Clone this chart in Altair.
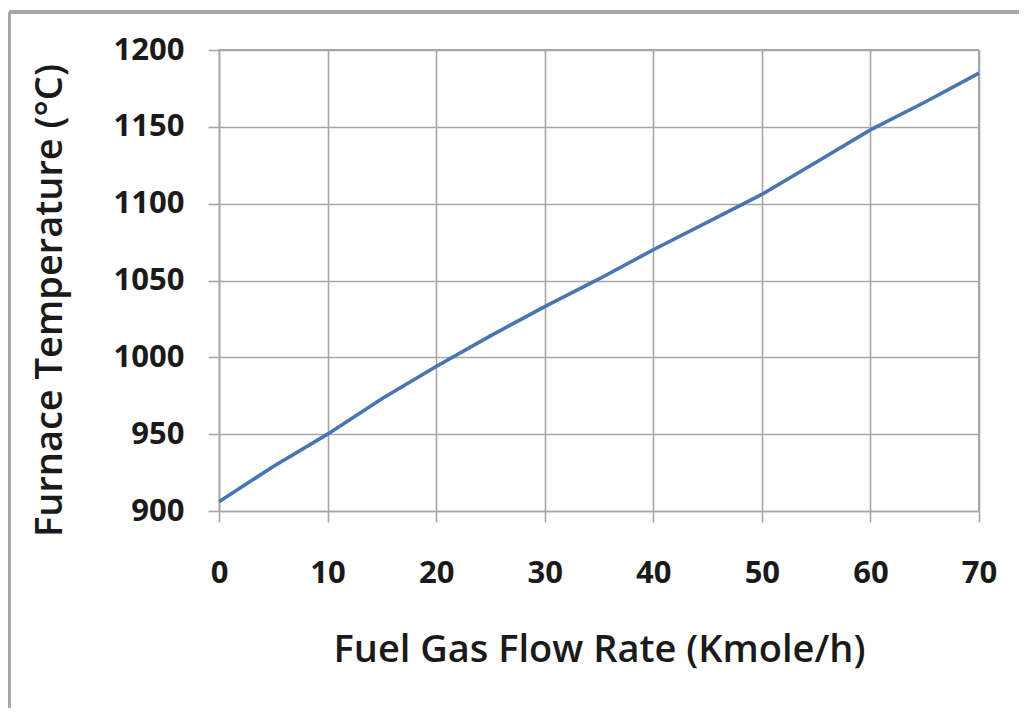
import altair as alt
import pandas as pd

flow = [0, 5, 10, 15, 20, 25, 30, 35, 40, 45, 50, 55, 60, 65, 70]
temp = [906, 929, 950, 973, 994, 1014, 1033, 1051, 1070, 1088, 1106, 1127, 1148, 1166, 1185]
x_ticks = [0, 10, 20, 30, 40, 50, 60, 70]
y_ticks = [900, 950, 1000, 1050, 1100, 1150, 1200]

df = pd.DataFrame({"flow": flow, "temp": temp})

FONT = "Open Sans"

line = alt.Chart(df).mark_line(color="#4a76b0", strokeWidth=3.6).encode(
    x=alt.X("flow:Q",
            scale=alt.Scale(domain=[0, 70], nice=False, zero=False),
            axis=alt.Axis(values=x_ticks, title="Fuel Gas Flow Rate (Kmole/h)",
                          format="d", labelFlush=False,
                          grid=True, gridColor="#a6a6a6", gridWidth=1.6,
                          domainColor="#a6a6a6", domainWidth=1.6,
                          tickColor="#a6a6a6", tickWidth=1.6, tickSize=11,
                          labelFont=FONT, labelFontSize=31, labelFontWeight="bold",
                          labelColor="#1a1a1a", labelPadding=36,
                          titleFont=FONT, titleFontSize=38, titleFontWeight=600,
                          titleColor="#1a1a1a", titleY=139, titleBaseline="middle")),
    y=alt.Y("temp:Q",
            scale=alt.Scale(domain=[900, 1200], nice=False, zero=False),
            axis=alt.Axis(values=y_ticks, title="Furnace Temperature (°C)",
                          format="d", labelFlush=False,
                          grid=True, gridColor="#a6a6a6", gridWidth=1.6,
                          domainColor="#a6a6a6", domainWidth=1.6,
                          tickColor="#a6a6a6", tickWidth=1.6, tickSize=11,
                          labelFont=FONT, labelFontSize=31, labelFontWeight="bold",
                          labelColor="#1a1a1a", labelPadding=24,
                          titleFont=FONT, titleFontSize=38, titleFontWeight=600,
                          titleColor="#1a1a1a", titleX=-169, titleY=250,
                          titleAngle=-90, titleAlign="center", titleBaseline="middle")),
)

frame_left = alt.Chart(df).mark_rule(color="#a6a6a6", strokeWidth=2.5).encode(
    x=alt.value(-210), y=alt.value(-38), y2=alt.value(660))
frame_top = alt.Chart(df).mark_rule(color="#a6a6a6", strokeWidth=2.5).encode(
    x=alt.value(-210), x2=alt.value(800), y=alt.value(-38))

right_edge = alt.Chart(df).mark_rule(color="#a6a6a6", strokeWidth=1.6).encode(
    x=alt.value(760), y=alt.value(0), y2=alt.value(461))
top_edge = alt.Chart(df).mark_rule(color="#a6a6a6", strokeWidth=1.6).encode(
    x=alt.value(0), x2=alt.value(760), y=alt.value(0))

chart = alt.layer(frame_left, frame_top, right_edge, top_edge, line).properties(
    width=760, height=461,
    autosize=alt.AutoSizeParams(type="none"),
    padding={"left": 211, "top": 42, "right": 42, "bottom": 197},
).configure_view(stroke=None).configure(background="white")

chart.save("out.html", embed_options={"renderer": "svg", "actions": False})
